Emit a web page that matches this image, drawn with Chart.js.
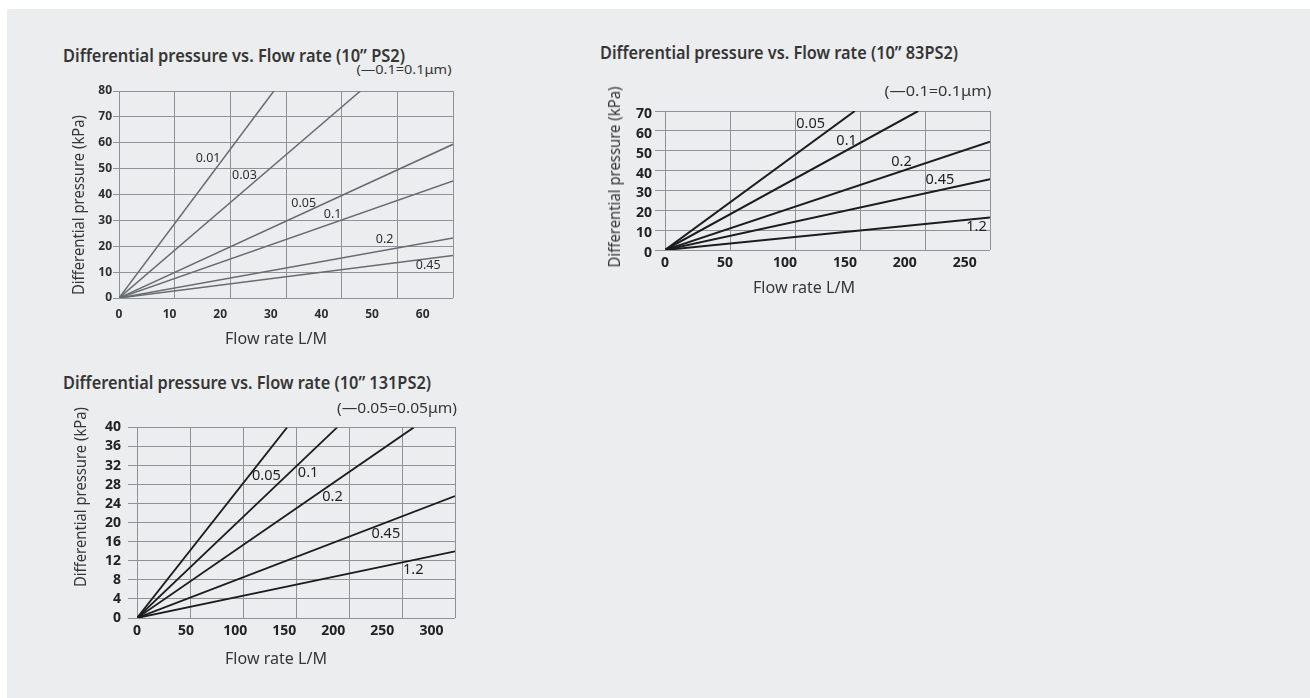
<!DOCTYPE html>
<html><head><meta charset="utf-8">
<script src="https://cdn.jsdelivr.net/npm/chart.js@4.4.1/dist/chart.umd.min.js"></script>
<style>
html,body{margin:0;padding:0;background:#ffffff;width:1310px;height:698px;overflow:hidden;position:relative}
#bg{position:absolute;left:7px;top:9px;right:0;bottom:0;background:#ecedee}
canvas{position:absolute}
.t{position:absolute;white-space:nowrap;line-height:1;transform-origin:0 0;font-family:"Noto Sans",sans-serif;color:#363636}
</style></head><body><div id="bg"></div>
<script>
// ---------- Chart A : 10" PS2 ----------
const flowTicksA = [0, 10, 20, 30, 40, 50, 60];
const flowGridA = [0, 11, 22, 33, 44, 55, 66];
const pressTicksA = [0, 10, 20, 30, 40, 50, 60, 70, 80];
const poreA = ['0.01', '0.03', '0.05', '0.1', '0.2', '0.45'];
const endFlowA = [30.6, 47.7, 66, 66, 66, 66];
const endPressA = [80, 80, 59.4, 45.2, 23.2, 16.4];
const tagFlowA = [17.6, 24.8, 36.5, 42.2, 52.5, 61.1];
const tagPressA = [53.9, 47.2, 36.5, 32.3, 22.7, 12.4];

// ---------- Chart B : 10" 83PS2 ----------
const flowTicksB = [0, 50, 100, 150, 200, 250];
const flowGridB = [0, 54.2, 108.4, 162.6, 216.8, 271];
const pressTicksB = [0, 10, 20, 30, 40, 50, 60, 70];
const poreB = ['0.05', '0.1', '0.2', '0.45', '1.2'];
const endFlowB = [158.3, 211.1, 271, 271, 271];
const endPressB = [70, 70, 54.5, 35.7, 16.4];
const tagFlowB = [121.4, 151.4, 197.2, 229.2, 259.7];
const tagPressB = [63.4, 54.9, 44.5, 35.2, 11.4];

// ---------- Chart C : 10" 131PS2 ----------
const flowTicksC = [0, 50, 100, 150, 200, 250, 300];
const flowGridC = [0, 54, 108, 162, 216, 270, 324];
const pressTicksC = [0, 4, 8, 12, 16, 20, 24, 28, 32, 36, 40];
const poreC = ['0.05', '0.1', '0.2', '0.45', '1.2'];
const endFlowC = [152.9, 203.9, 282, 324, 324];
const endPressC = [40, 40, 40, 25.6, 14.0];
const tagFlowC = [131.9, 174.3, 199.2, 253.5, 281.4];
const tagPressC = [29.9, 30.4, 25.4, 17.7, 10.2];

const FONT = '"Noto Sans", sans-serif';

const tagPlugin = {
  id: 'tags',
  afterDatasetsDraw(chart, args, o) {
    const ctx = chart.ctx, xs = chart.scales.x, ys = chart.scales.y;
    ctx.save();
    ctx.font = (o.weight || 'normal') + ' ' + o.size + 'px ' + FONT;
    ctx.textAlign = 'center';
    ctx.textBaseline = 'middle';
    ctx.fillStyle = o.color;
    o.names.forEach((n, i) => {
      ctx.fillText(n, xs.getPixelForValue(o.tx[i]), ys.getPixelForValue(o.ty[i]));
    });
    ctx.restore();
  }
};

function makeChart(s) {
  const Wy = 50, Hx = 34, pt = 12, pr = 14;
  const cv = document.createElement('canvas');
  const w = s.R - s.L + Wy + pr, h = s.B - s.T + pt + Hx;
  cv.style.left = (s.L - Wy) + 'px';
  cv.style.top = (s.T - pt) + 'px';
  cv.style.width = w + 'px';
  cv.style.height = h + 'px';
  cv.width = w; cv.height = h;
  document.body.appendChild(cv);
  const datasets = s.names.map((n, i) => ({
    label: n,
    data: [{x: 0, y: 0}, {x: s.endX[i], y: s.endY[i]}],
    borderColor: s.lineColor, borderWidth: s.lineWidth,
    pointRadius: 0, fill: false, tension: 0, xAxisID: 'x', yAxisID: 'y'
  }));
  const tickFont = {family: FONT, size: s.tickSize, weight: s.tickWeight};
  new Chart(cv, {
    type: 'line',
    data: {datasets},
    plugins: [tagPlugin],
    options: {
      responsive: false, animation: false, events: [],
      layout: {padding: {top: pt, right: pr, left: 0, bottom: 0}},
      plugins: {
        legend: {display: false}, tooltip: {enabled: false},
        tags: {names: s.names, tx: s.tagX, ty: s.tagY, size: s.tagSize, color: s.textColor, weight: s.tagWeight}
      },
      scales: {
        x: {
          type: 'linear', position: 'bottom', min: 0, max: s.xMax,
          grid: {display: false, drawTicks: false}, border: {display: false},
          afterBuildTicks: sc => { sc.ticks = s.xTicks.map(v => ({value: v})); },
          afterFit: sc => { sc.height = Hx; },
          ticks: {font: tickFont, color: s.textColor, padding: s.xPad, maxRotation: 0, autoSkip: false}
        },
        xg: {
          type: 'linear', position: 'top', min: 0, max: s.xMax,
          afterBuildTicks: sc => { sc.ticks = s.xGrid.map(v => ({value: v})); },
          afterFit: sc => { sc.height = 0; },
          ticks: {display: false},
          grid: {color: s.gridColor, lineWidth: 1, drawTicks: false},
          border: {display: false}
        },
        y: {
          type: 'linear', min: 0, max: s.yMax,
          afterBuildTicks: sc => { sc.ticks = s.yTicks.map(v => ({value: v})); },
          afterFit: sc => { sc.width = Wy; },
          ticks: {font: tickFont, color: s.textColor, padding: s.yPad, autoSkip: false, labelOffset: s.yLabelOffset || 0},
          grid: {color: s.gridColor, lineWidth: 1, tickLength: s.tickLen, tickColor: s.gridColor},
          border: {display: false}
        }
      }
    }
  });
}

makeChart({L: 119, R: 453, T: 91, B: 298, xMax: 66, yMax: 80,
  xTicks: flowTicksA, xGrid: flowGridA, yTicks: pressTicksA,
  names: poreA, endX: endFlowA, endY: endPressA, tagX: tagFlowA, tagY: tagPressA,
  lineColor: '#676c71', lineWidth: 1.5, gridColor: '#8e9396', textColor: '#2e2e2e',
  tickSize: 12, tickWeight: 'bold', tagSize: 12.5, tagWeight: 'normal', xPad: 9, yPad: 1, tickLen: 6});

makeChart({L: 665, R: 990, T: 111, B: 250, xMax: 271, yMax: 70,
  xTicks: flowTicksB, xGrid: flowGridB, yTicks: pressTicksB,
  names: poreB, endX: endFlowB, endY: endPressB, tagX: tagFlowB, tagY: tagPressB,
  lineColor: '#1c1c1c', lineWidth: 2, gridColor: '#8e9396', textColor: '#222222',
  tickSize: 14, tickWeight: 'bold', tagSize: 14.5, tagWeight: 'normal', xPad: 5, yPad: 3, tickLen: 10, yLabelOffset: 3});

makeChart({L: 137, R: 455, T: 424, B: 618, xMax: 324, yMax: 40,
  xTicks: flowTicksC, xGrid: flowGridC, yTicks: pressTicksC,
  names: poreC, endX: endFlowC, endY: endPressC, tagX: tagFlowC, tagY: tagPressC,
  lineColor: '#1c1c1c', lineWidth: 1.8, gridColor: '#8e9396', textColor: '#222222',
  tickSize: 14, tickWeight: 'bold', tagSize: 14.5, tagWeight: 'normal', xPad: 5, yPad: 7, tickLen: 9});

function txt(str, cx, cy, w, fs, o = {}) {
  const d = document.createElement('div');
  d.className = 't';
  d.textContent = str;
  d.style.fontSize = fs + 'px';
  if (o.weight) d.style.fontWeight = o.weight;
  if (o.color) d.style.color = o.color;
  document.body.appendChild(d);
  const nat = d.getBoundingClientRect().width;
  const sx = w / nat;
  d.style.left = cx + 'px';
  d.style.top = cy + 'px';
  d.style.transform = `rotate(${o.rot || 0}deg) scaleX(${sx}) translate(-50%,-50%)`;
}

txt('Differential pressure vs. Flow rate (10\u201D PS2)', 234, 55, 342, 17, {weight: 600});
txt('(\u20140.1=0.1\u03BCm)', 404, 70, 95, 12);
txt('Flow rate L/M', 276, 337, 102, 17);
txt('Differential pressure (kPa)', 78, 205, 180, 16, {rot: -90});

txt('Differential pressure vs. Flow rate (10\u201D 83PS2)', 779, 52, 358, 17, {weight: 600});
txt('(\u20140.1=0.1\u03BCm)', 938, 91, 107, 14);
txt('Flow rate L/M', 804, 286, 102, 17);
txt('Differential pressure (kPa)', 614, 177, 181, 16, {rot: -90});

txt('Differential pressure vs. Flow rate (10\u201D 131PS2)', 247, 382, 368, 17, {weight: 600});
txt('(\u20140.05=0.05\u03BCm)', 397, 408, 120, 14);
txt('Flow rate L/M', 276, 657, 102, 17);
txt('Differential pressure (kPa)', 80, 497, 180, 16, {rot: -90});
</script>
</body></html>
